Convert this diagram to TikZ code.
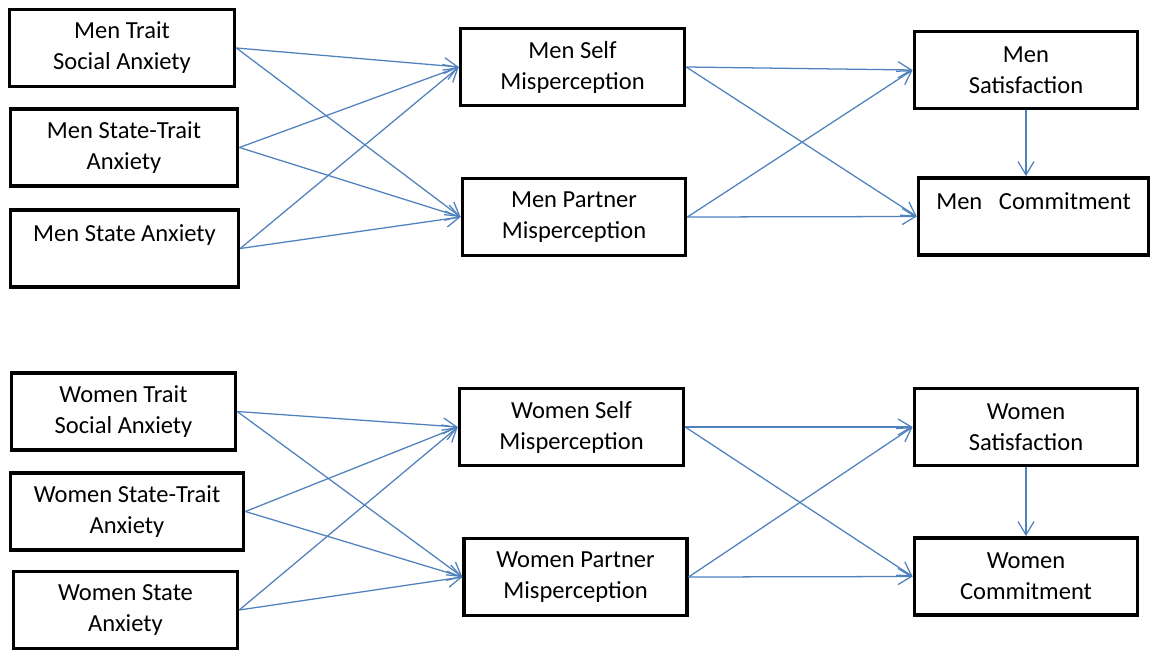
\documentclass[tikz,border=0pt]{standalone}
\usepackage{fontspec}
\setmainfont{Carlito}
\usetikzlibrary{arrows.meta}

\definecolor{pathblue}{RGB}{79,129,189}
\tikzset{every picture/.style={line width=0.75pt}}
\tikzset{
  box/.style={draw, line width=2.6pt, align=center, inner sep=0pt, minimum height=58pt,
    font=\fontsize{18.4}{23.2}\selectfont},
  path/.style={draw=pathblue, line width=0.95pt, -{Straight Barb[length=10pt,width=12pt,line width=0.95pt]}}
}

\begin{document}
\begin{tikzpicture}[x=0.75pt,y=0.75pt,yscale=-1,xscale=1]
\useasboundingbox (0,0) rectangle (1152,652);

%Shape: Rectangle -- men, predictors
\node[box, minimum width=169pt] (mTrait) at (122,48) {Men Trait\\Social Anxiety};
\node[box, minimum width=170.5pt] (mStTr) at (124,147.5) {Men State-Trait\\Anxiety};
\node[box, minimum width=171pt] (mState) at (124.5,248.5) {Men State Anxiety\\\mbox{}};
%Shape: Rectangle -- men, mediators
\node[box, minimum width=168pt] (mSelf) at (572.5,67) {Men Self\\Misperception};
\node[box, minimum width=167.5pt] (mPart) at (574,217) {Men Partner\\Misperception};
%Shape: Rectangle -- men, outcomes
\node[box, minimum width=167.5pt] (mSat) at (1026,70) {Men\\Satisfaction};
\node[box, minimum width=172.5pt] (mCom) at (1033.5,216.5) {Men\ \ \ Commitment\\\mbox{}};

%Shape: Rectangle -- women, predictors
\node[box, minimum width=168pt] (wTrait) at (123.5,411.5) {Women Trait\\Social Anxiety};
\node[box, minimum width=175pt] (wStTr) at (127,511.5) {Women State-Trait\\Anxiety};
\node[box, minimum width=168pt] (wState) at (125.5,610) {Women State\\Anxiety};
%Shape: Rectangle -- women, mediators
\node[box, minimum width=168pt] (wSelf) at (571.5,427) {Women Self\\Misperception};
\node[box, minimum width=167pt] (wPart) at (575.5,577) {Women Partner\\Misperception};
%Shape: Rectangle -- women, outcomes
\node[box, minimum width=167.5pt] (wSat) at (1026,427) {Women\\Satisfaction};
\node[box, minimum width=167.5pt] (wCom) at (1026,576.5) {Women\\Commitment};

%Straight Lines -- men
\foreach \a in {mTrait,mStTr,mState}{
  \draw[path] (\a.east) -- (mSelf.west);
  \draw[path] (\a.east) -- (mPart.west);
}
\foreach \a in {mSelf,mPart}{
  \draw[path] (\a.east) -- (mSat.west);
  \draw[path] (\a.east) -- (mCom.west);
}
\draw[path] (mSat.south) -- (mSat.south |- mCom.north);

%Straight Lines -- women
\foreach \a in {wTrait,wStTr,wState}{
  \draw[path] (\a.east) -- (wSelf.west);
  \draw[path] (\a.east) -- (wPart.west);
}
\foreach \a in {wSelf,wPart}{
  \draw[path] (\a.east) -- (wSat.west);
  \draw[path] (\a.east) -- (wCom.west);
}
\draw[path] (wSat.south) -- (wSat.south |- wCom.north);

\end{tikzpicture}
\end{document}
